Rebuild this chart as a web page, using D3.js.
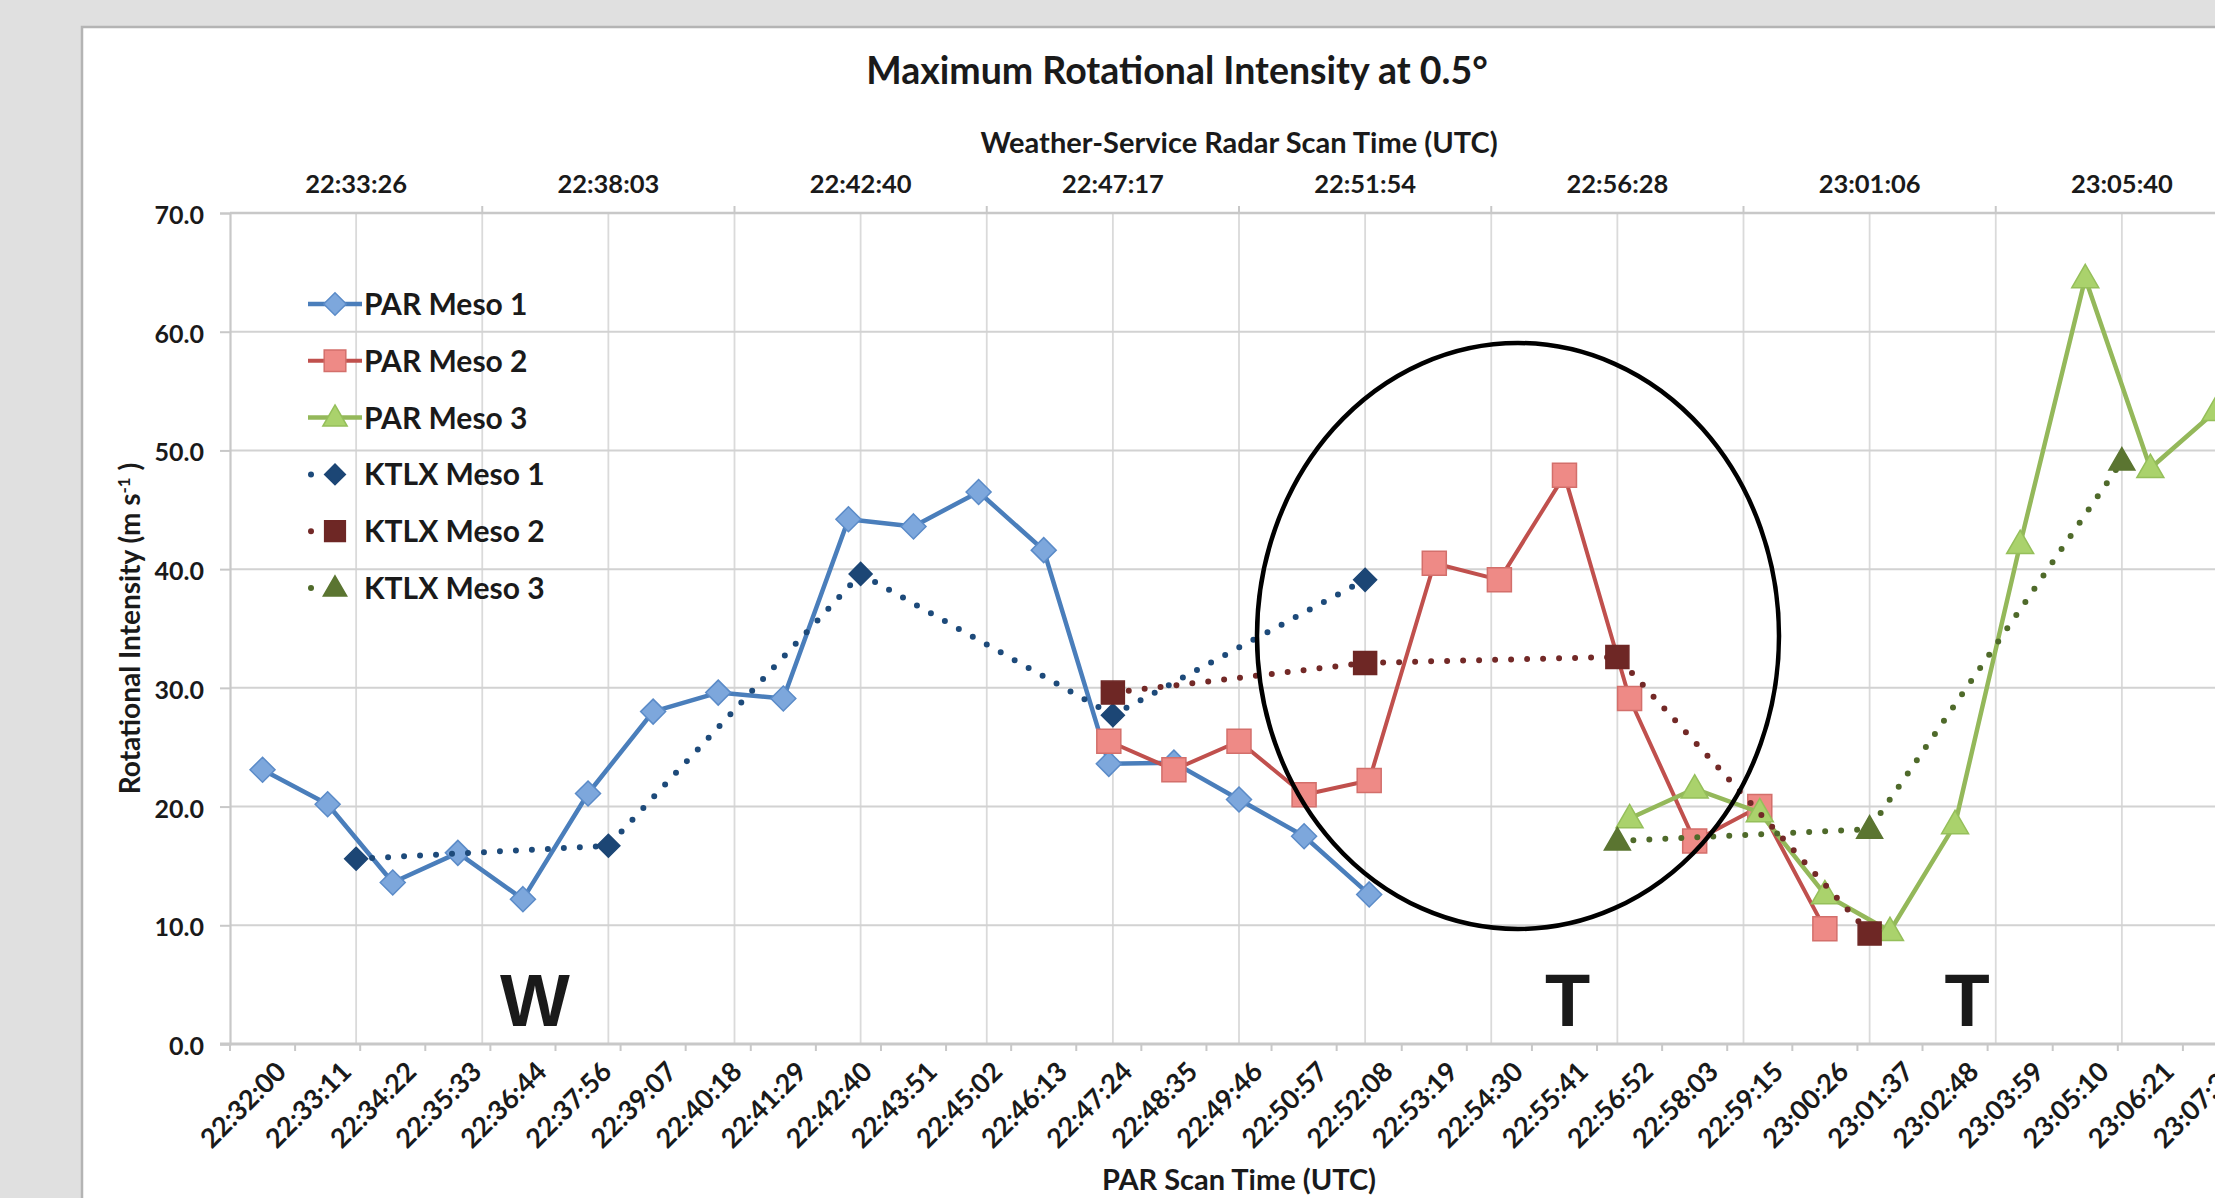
<!DOCTYPE html>
<html>
<head>
<meta charset="utf-8">
<script src="https://cdn.jsdelivr.net/npm/d3@7"></script>
<style>
  html, body { margin: 0; padding: 0; background: #e0e0e0; overflow: hidden; }
  svg { display: block; }
  text { font-family: Lato, "Open Sans", sans-serif; font-weight: 700; fill: #1a1a1a; }
</style>
</head>
<body>
<svg id="chart" width="2215" height="1198"></svg>
<script>
// ---------- DATA ----------
const parTimes = ["22:32:00","22:33:11","22:34:22","22:35:33","22:36:44","22:37:56","22:39:07","22:40:18",
  "22:41:29","22:42:40","22:43:51","22:45:02","22:46:13","22:47:24","22:48:35","22:49:46","22:50:57",
  "22:52:08","22:53:19","22:54:30","22:55:41","22:56:52","22:58:03","22:59:15","23:00:26","23:01:37",
  "23:02:48","23:03:59","23:05:10","23:06:21","23:07:32"];
const ktlxTimes = ["22:33:26","22:38:03","22:42:40","22:47:17","22:51:54","22:56:28","23:01:06","23:05:40"];

const parMeso1 = [23.1,20.2,13.6,16.1,12.2,21.1,28.0,29.6,29.1,44.2,43.6,46.5,41.6,23.6,23.7,20.6,17.5,12.6,
  null,null,null,null,null,null,null,null,null,null,null,null,null];
const parMeso2 = [null,null,null,null,null,null,null,null,null,null,null,null,null,
  25.5,23.1,25.5,21.0,22.2,40.5,39.1,47.9,29.1,17.1,20.0,9.7,null,null,null,null,null,null];
const parMeso3 = [null,null,null,null,null,null,null,null,null,null,null,null,null,null,null,null,null,null,null,null,null,
  19.0,21.5,19.5,12.6,9.5,18.5,42.1,64.5,48.5,53.3];
const ktlxMeso1 = [15.6,16.7,39.6,27.7,39.1,null,null,null];
const ktlxMeso2 = [null,null,null,29.6,32.1,32.6,9.3,null];
const ktlxMeso3 = [null,null,null,null,null,17.1,18.1,49.1];

const yTicks = [0,10,20,30,40,50,60,70];
const seriesNames = ["PAR Meso 1","PAR Meso 2","PAR Meso 3","KTLX Meso 1","KTLX Meso 2","KTLX Meso 3"];

// ---------- LAYOUT ----------
const svg = d3.select("#chart");
const L = 230, R = 2248, T = 213, B = 1044;

svg.append("rect").attr("x", 82).attr("y", 27).attr("width", 2400).attr("height", 1400)
  .attr("fill", "#fff").attr("stroke", "#b4b4b4").attr("stroke-width", 2.5);

const xPar = d3.scaleBand().domain(parTimes).range([L, R]);
const xK = d3.scaleBand().domain(ktlxTimes).range([L, R]);
const y = d3.scaleLinear().domain([0, 70]).range([B, T]);
const xp = (i) => xPar(parTimes[i]) + xPar.bandwidth() / 2;
const xk = (i) => xK(ktlxTimes[i]) + xK.bandwidth() / 2;

// gridlines
const g = svg.append("g");
const vgrid = [];
ktlxTimes.forEach(t => { vgrid.push(xK(t)); vgrid.push(xK(t) + xK.bandwidth() / 2); });
vgrid.push(R);
g.selectAll(".vg").data(vgrid.slice(1)).join("line")
  .attr("x1", d => d).attr("x2", d => d).attr("y1", T).attr("y2", B)
  .attr("stroke", "#dadada").attr("stroke-width", 1.8);
g.selectAll(".hg").data(yTicks.slice(1)).join("line")
  .attr("x1", L).attr("x2", R).attr("y1", d => y(d)).attr("y2", d => y(d))
  .attr("stroke", d => d === 70 ? "#c8c8c8" : "#d2d2d2").attr("stroke-width", d => d === 70 ? 2.6 : 2);

// axes
const yAxis = svg.append("g").attr("transform", `translate(${L},0)`)
  .call(d3.axisLeft(y).tickValues(yTicks).tickFormat(d3.format(".1f")).tickSize(10).tickPadding(16));
yAxis.select(".domain").attr("stroke", "#c8c8c8").attr("stroke-width", 2.2);
yAxis.selectAll(".tick line").attr("stroke", "#c8c8c8").attr("stroke-width", 2);
yAxis.selectAll(".tick text").attr("font-size", 25).attr("dy", "0.42em").style("font-family", "Lato").style("font-weight", 700).attr("fill", "#1a1a1a");

// bottom axis line + ticks at boundaries
svg.append("line").attr("x1", L - 10).attr("x2", R).attr("y1", B).attr("y2", B)
  .attr("stroke", "#c8c8c8").attr("stroke-width", 3);
svg.selectAll(".bt").data(parTimes).join("line")
  .attr("x1", d => xPar(d)).attr("x2", d => xPar(d)).attr("y1", B).attr("y2", B + 7)
  .attr("stroke", "#c8c8c8").attr("stroke-width", 2);
const bAxis = svg.append("g").attr("transform", `translate(0,${B})`)
  .call(d3.axisBottom(xPar).tickSize(0).tickPadding(0));
bAxis.select(".domain").remove();
bAxis.selectAll(".tick text")
  .attr("font-size", 27).attr("text-anchor", "end")
  .attr("transform", "translate(12,16) rotate(-45)").attr("dy", "0.7em")
  .style("font-family", "Lato").style("font-weight", 700).attr("fill", "#1a1a1a");

// top axis ticks + labels
svg.selectAll(".tt").data(ktlxTimes.slice(1)).join("line")
  .attr("x1", d => xK(d)).attr("x2", d => xK(d)).attr("y1", T - 7).attr("y2", T)
  .attr("stroke", "#c8c8c8").attr("stroke-width", 2);
const tAxis = svg.append("g").attr("transform", `translate(0,${T})`)
  .call(d3.axisTop(xK).tickSize(0).tickPadding(20));
tAxis.select(".domain").remove();
tAxis.selectAll(".tick text").attr("font-size", 25.5)
  .style("font-family", "Lato").style("font-weight", 700).attr("fill", "#1a1a1a");

// titles
svg.append("text").attr("x", 1177).attr("y", 84).attr("text-anchor", "middle")
  .attr("font-size", 37.5).text("Maximum Rotational Intensity at 0.5°");
svg.append("text").attr("x", (L + R) / 2).attr("y", 153).attr("text-anchor", "middle")
  .attr("font-size", 29).text("Weather-Service Radar Scan Time (UTC)");
svg.append("text").attr("x", (L + R) / 2).attr("y", 1190).attr("text-anchor", "middle")
  .attr("font-size", 29).text("PAR Scan Time (UTC)");
const yt = svg.append("text").attr("transform", `translate(140,${(T + B) / 2}) rotate(-90)`)
  .attr("text-anchor", "middle").attr("font-size", 28);
yt.append("tspan").text("Rotational Intensity (m s");
yt.append("tspan").attr("dy", -10).attr("font-size", 17).text("-1");
yt.append("tspan").attr("dy", 10).text(" )");

// ---------- SERIES ----------
const styles = [
  {line: "#4a7ebb", w: 4.5, dash: null, fill: "#7da7dc", stroke: "#5b8bc8", shape: "diamond", size: 25},
  {line: "#c0504d", w: 4, dash: null, fill: "#ee8a86", stroke: "#d36f6b", shape: "square", size: 24},
  {line: "#94b85a", w: 4.5, dash: null, fill: "#aad26c", stroke: "#95bf5a", shape: "triangle", size: 27},
  {line: "#1d4a7a", w: 6, dash: "0 16", fill: "#1c4675", stroke: "#1c4675", shape: "diamond", size: 23},
  {line: "#732927", w: 6, dash: "0 16", fill: "#6e2725", stroke: "#6e2725", shape: "square", size: 23},
  {line: "#4f6a2a", w: 6, dash: "0 16", fill: "#5b7531", stroke: "#5b7531", shape: "triangle", size: 26}
];
const seriesData = [
  {vals: parMeso1, x: xp}, {vals: parMeso2, x: xp}, {vals: parMeso3, x: xp},
  {vals: ktlxMeso1, x: xk}, {vals: ktlxMeso2, x: xk}, {vals: ktlxMeso3, x: xk}
];

function markerPath(shape, s) {
  if (shape === "diamond") { const h = s / 2; return `M0,${-h}L${h},0L0,${h}L${-h},0Z`; }
  if (shape === "square") { const h = s / 2; return `M${-h},${-h}H${h}V${h}H${-h}Z`; }
  const h = s * 0.866; return `M0,${-h * 0.6}L${s / 2},${h * 0.4}L${-s / 2},${h * 0.4}Z`;
}

const plot = svg.append("g");
seriesData.forEach((s, k) => {
  const st = styles[k];
  const pts = s.vals.map((v, i) => ({i, v})).filter(d => d.v !== null);
  const line = d3.line().x(d => s.x(d.i)).y(d => y(d.v));
  plot.append("path").attr("d", line(pts)).attr("fill", "none")
    .attr("stroke", st.line).attr("stroke-width", st.w)
    .attr("stroke-linecap", "round").attr("stroke-linejoin", "round")
    .attr("stroke-dasharray", st.dash);
  plot.selectAll(null).data(pts).join("path")
    .attr("transform", d => `translate(${s.x(d.i)},${y(d.v)})`)
    .attr("d", markerPath(st.shape, st.size))
    .attr("fill", st.fill).attr("stroke", st.stroke).attr("stroke-width", 1.5);
});

// ---------- LEGEND ----------
const lg = svg.append("g");
seriesNames.forEach((name, k) => {
  const st = styles[k];
  const yy = 304 + k * 56.8;
  if (st.dash) {
    lg.append("line").attr("x1", 311).attr("x2", 335).attr("y1", yy).attr("y2", yy)
      .attr("stroke", st.line).attr("stroke-width", 6).attr("stroke-linecap", "round").attr("stroke-dasharray", "0 24");
  } else {
    lg.append("line").attr("x1", 308).attr("x2", 362).attr("y1", yy).attr("y2", yy)
      .attr("stroke", st.line).attr("stroke-width", st.w);
  }
  lg.append("path").attr("transform", `translate(335,${yy})`)
    .attr("d", markerPath(st.shape, st.size * 0.9))
    .attr("fill", st.fill).attr("stroke", st.stroke).attr("stroke-width", 1.5);
  lg.append("text").attr("x", 364).attr("y", yy + 11).attr("font-size", 30).text(name);
});

// ---------- ANNOTATIONS ----------
const ann = svg.append("g");
ann.append("ellipse").attr("cx", 1518).attr("cy", 636).attr("rx", 261).attr("ry", 293)
  .attr("fill", "none").attr("stroke", "#000").attr("stroke-width", 4.5);
[["W", xp(4) + 12], ["T", xp(20) + 3], ["T", xp(26) + 12]].forEach(([t, x]) => {
  ann.append("text").attr("x", x).attr("y", y(1.5)).attr("text-anchor", "middle")
    .style("font-family", "'Liberation Sans', Arial, sans-serif").attr("font-size", 74)
    .attr("fill", "#000").text(t);
});
</script>
</body>
</html>
